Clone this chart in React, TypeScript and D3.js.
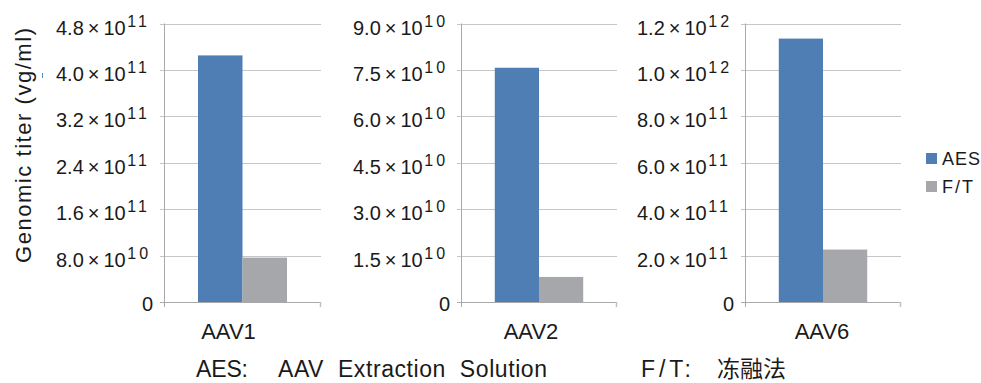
import React from "react";
import * as d3 from "d3";

const categories = ["AAV1", "AAV2", "AAV6"];
const seriesNames = ["AES", "F/T"];
const aesValues = [4.25e11, 7.57e10, 1.135e12];
const ftValues = [7.65e10, 8.1e9, 2.26e11];
const axisMax = [4.8e11, 9.0e10, 1.2e12];
const tickStep = [8e10, 1.5e10, 2e11];
const yTitle = "Genomic titer (vg/ml)";
const noteAES = ["AES:", "AAV  Extraction  Solution"];
const noteFT = ["F/T:", "冻融法"];

const W = 981;
const H = 383;
const TOP = 23.5;
const BOTTOM = 302;
const panels = [
  { x0: 164, x1: 321, labelDx: -14 },
  { x0: 461, x1: 617, labelDx: -8 },
  { x0: 745, x1: 901, labelDx: -1 },
];
const colors = ["#4f7eb5", "#a6a7aa"];
const FONT = "'Liberation Sans', Arial, Helvetica, sans-serif";
const CJK = "'Noto Sans CJK SC', 'Noto Sans', sans-serif";
const TXT = "#1a1a1a";

function Panel({ i }: { i: number }) {
  const p = panels[i];
  const y = d3.scaleLinear().domain([0, axisMax[i]]).range([BOTTOM, TOP]);
  const x = d3
    .scaleBand<string>()
    .domain([categories[i]])
    .range([p.x0, p.x1])
    .paddingInner(0)
    .paddingOuter(0.382);
  const xs = d3
    .scaleBand<string>()
    .domain(seriesNames)
    .range([0, x.bandwidth()])
    .padding(0);
  const ticks = d3.range(0, axisMax[i] + tickStep[i] / 2, tickStep[i]);
  const vals = [aesValues[i], ftValues[i]];
  const bx = x(categories[i]) as number;
  return (
    <g>
      {ticks.map((t, k) => {
        const yy = Math.round(y(t)) + 0.5;
        return (
          <g key={k}>
            <line x1={p.x0 - 4} x2={p.x1} y1={yy} y2={yy} stroke={t === 0 ? "#a9a9a9" : "#c6c6c6"} strokeWidth={1} />
            {t === 0 ? (
              <text x={p.x0 - 11} y={yy + 8} textAnchor="end" fontFamily={FONT} fontSize={20} fill={TXT}>
                0
              </text>
            ) : (
              (() => {
                const [m, e] = t.toExponential(1).split("e");
                return (
                  <text x={p.x0 - 11 - 97} y={yy + 10} fontFamily={FONT} fontSize={20} fill={TXT}>
                    {m}
                    <tspan dx={4}>×</tspan>
                    <tspan dx={4}>10</tspan>
                    <tspan fontSize={16} dy={-7.5} dx={1.5} letterSpacing={3}>
                      {String(+e)}
                    </tspan>
                  </text>
                );
              })()
            )}
          </g>
        );
      })}
      {vals.map((v, k) => (
        <rect
          key={k}
          x={bx + (xs(seriesNames[k]) as number)}
          y={y(v)}
          width={xs.bandwidth()}
          height={BOTTOM - y(v)}
          fill={colors[k]}
        />
      ))}
      <line x1={p.x0 + 0.5} x2={p.x0 + 0.5} y1={TOP} y2={BOTTOM + 5} stroke="#a9a9a9" strokeWidth={1} />
      <line x1={p.x1 - 0.5} x2={p.x1 - 0.5} y1={BOTTOM} y2={BOTTOM + 5} stroke="#c0c0c0" strokeWidth={1.5} />
      <text
        x={bx + x.bandwidth() / 2 + p.labelDx}
        y={339}
        textAnchor="middle"
        fontFamily={FONT}
        fontSize={22}
        fill={TXT}
      >
        {categories[i]}
      </text>
    </g>
  );
}

export default function App() {
  return (
    <svg
      width={W}
      height={H}
      viewBox={`0 0 ${W} ${H}`}
      style={{ position: "absolute", left: 0, top: 0, background: "#ffffff" }}
    >
      <rect x={0} y={0} width={W} height={H} fill="#ffffff" />
      {categories.map((_, i) => (
        <Panel key={i} i={i} />
      ))}
      <text
        transform="translate(31,263) rotate(-90)"
        fontFamily={FONT}
        fontSize={22}
        fill={TXT}
        textLength={235}
        lengthAdjust="spacing"
      >
        {yTitle}
      </text>
      <line x1={42.5} x2={42.5} y1={73} y2={78} stroke="#4a90d0" strokeWidth={1} />
      {seriesNames.map((s, k) => (
        <g key={s}>
          <rect x={926} y={153 + k * 28} width={11} height={11} fill={colors[k]} />
          <text
            x={942}
            y={165 + k * 28}
            fontFamily={FONT}
            fontSize={18}
            fill={TXT}
            textLength={k === 0 ? 38 : 31}
            lengthAdjust="spacing"
          >
            {s}
          </text>
        </g>
      ))}
      <text x={196} y={377} fontFamily={FONT} fontSize={23} fill={TXT} textLength={52} lengthAdjust="spacing">
        {noteAES[0]}
      </text>
      <text
        x={278}
        y={377}
        fontFamily={FONT}
        fontSize={23}
        fill={TXT}
        style={{ whiteSpace: "pre" }}
        textLength={269}
        lengthAdjust="spacing"
      >
        {noteAES[1]}
      </text>
      <text x={641} y={377} fontFamily={FONT} fontSize={23} fill={TXT} textLength={50} lengthAdjust="spacing">
        {noteFT[0]}
      </text>
      <text x={717} y={377} fontFamily={CJK} fontSize={23} fill={TXT}>
        {noteFT[1]}
      </text>
    </svg>
  );
}
